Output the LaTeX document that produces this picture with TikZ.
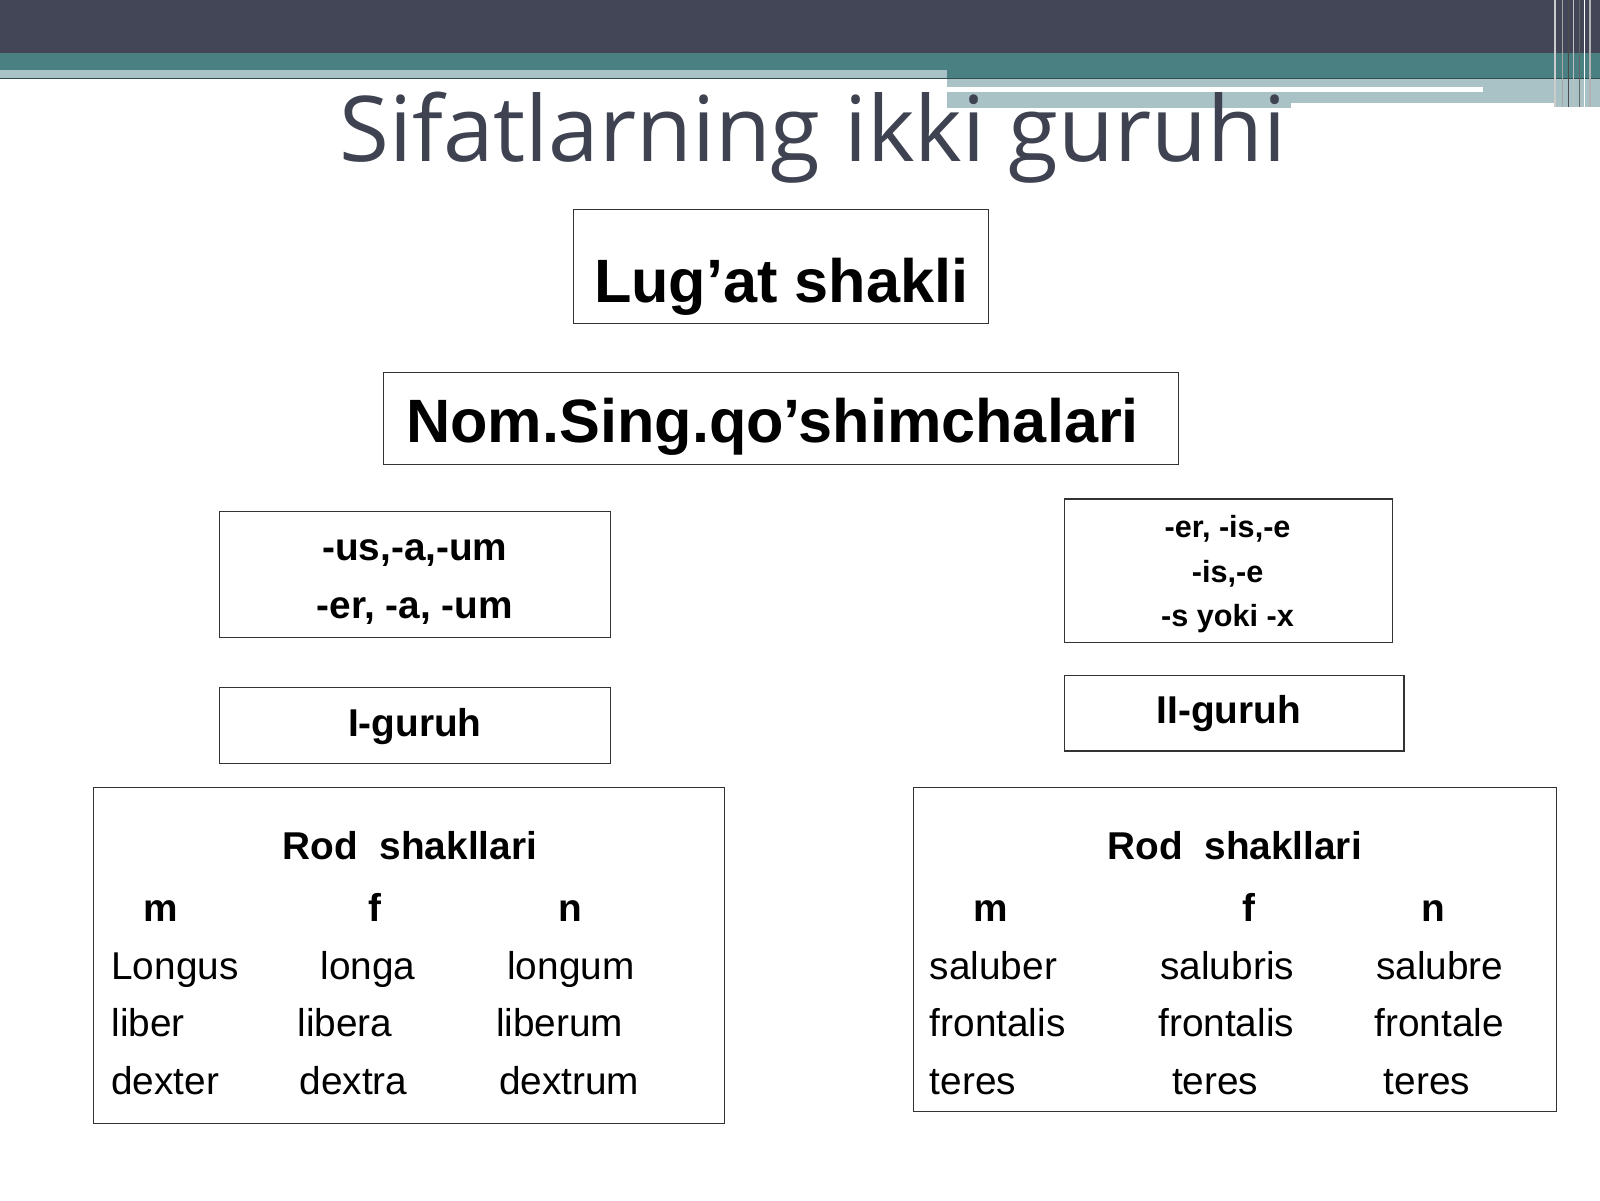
\documentclass[tikz,border=0pt]{standalone}
\usepackage{fontspec}
\setmainfont{Liberation Sans}
\newfontfamily\titlefont{Open Sans}
\usetikzlibrary{positioning}

\definecolor{hdrdark}{HTML}{424656}
\definecolor{hdrteal}{HTML}{4B8082}
\definecolor{hdrlight}{HTML}{A9C2C6}
\definecolor{titlegray}{HTML}{3F4250}

\begin{document}
\begin{tikzpicture}[
    x=1pt, y=-1pt,
    frame/.style={draw=black!80, line width=1.2pt, inner sep=0pt},
    ttl/.style={font=\titlefont\fontsize{89}{89}\selectfont, text=titlegray, inner sep=0pt},
    head/.style={font=\bfseries\fontsize{60}{60}\selectfont},
    sfx/.style={font=\bfseries\fontsize{38}{38}\selectfont, inner sep=0pt},
    sfxsmall/.style={font=\bfseries\fontsize{30}{30}\selectfont, inner sep=0pt},
    grp/.style={font=\bfseries\fontsize{38}{38}\selectfont},
    gender/.style={font=\bfseries\fontsize{38}{38}\selectfont, inner sep=0pt, anchor=base},
    word/.style={font=\fontsize{38}{38}\selectfont, inner sep=0pt, anchor=base west},
]
\useasboundingbox (0,0) rectangle (1568,1176);
\fill[white] (0,0) rectangle (1568,1176);

% === HEADER BAND ===
\fill[hdrdark] (0,0) rectangle (1568,52);
\fill[hdrteal] (0,52) rectangle (1568,76.5);
\draw[hdrteal!60!black, line width=1pt] (0,76.5) -- (1568,76.5);
\fill[hdrlight] (0,68.5) rectangle (928,76);
\fill[hdrlight] (928,77) rectangle (1265,106);
\fill[hdrlight] (1265,77) rectangle (1568,101);
\fill[white] (928,85) rectangle (1453,90);
\fill[hdrlight] (1523,77) rectangle (1568,105);
\draw[gray!40, line width=1.5pt] (1524,0) -- (1524,105);
\draw[gray!70, line width=1.5pt] (1531,0) -- (1531,105);
\draw[black!70, line width=1.5pt] (1537,0) -- (1537,105);
\draw[gray!50, line width=1.5pt] (1542,0) -- (1542,105);
\draw[black!60, line width=1.5pt] (1548,0) -- (1548,105);
\draw[white, line width=1.5pt] (1553,0) -- (1553,105);
\draw[gray!60, line width=1.5pt] (1558,0) -- (1558,105);

% === TITLE ===
\node[ttl, anchor=base] (title) at (796.5,158) {Sifatlarning ikki guruhi};

% === TOP BOXES ===
\node[frame, head, minimum width=407pt, text height=91pt, text depth=21pt] (lug) at (765.5,261) {Lug’at shakli};
\node[frame, head, minimum width=779pt, text height=69pt, text depth=21pt] (nom) at (765.5,410) {Nom.Sing.qo’shimchalari\hspace{0.28em}\mbox{}};

% === GROUP I ===
\node[frame, minimum width=383pt, minimum height=124pt] (sfx1) at (406.5,563) {};
\node[sfx, anchor=base] (sfx1_1) at (406.5,549) {-us,-a,-um};
\node[sfx, anchor=base] (sfx1_2) at (406.5,606) {-er, -a, -um};
\node[frame, grp, minimum width=383pt, text height=48pt, text depth=26pt] (grp1) at (406.5,711) {I-guruh};

% === GROUP II ===
\node[frame, minimum width=322pt, minimum height=141pt] (sfx2) at (1204,559.5) {};
\node[sfxsmall, anchor=base] (sfx2_1) at (1203,527) {-er, -is,-e};
\node[sfxsmall, anchor=base] (sfx2_2) at (1203,571) {-is,-e};
\node[sfxsmall, anchor=base] (sfx2_3) at (1203,614) {-s yoki -x};
\node[frame, grp, minimum width=333pt, text height=47pt, text depth=27pt] (grp2) at (1209.5,699) {II-guruh\hspace{0.28em}\mbox{}};

% === ROD SHAKLLARI, GROUP I ===
\node[frame, minimum width=618pt, minimum height=329pt] (rod1) at (401,936.5) {};
\node[gender] (rod1_t) at (401.7,842) {Rod\ \ shakllari};
\node[gender] (m1) at (158,903.5) {m};
\node[gender] (f1) at (367,903.5) {f};
\node[gender] (n1) at (559,903.5) {n};
\node[word] (w1_1) at (109,959.5) {Longus};
\node[word] (w1_2) at (314,959.5) {longa};
\node[word] (w1_3) at (497,959.5) {longum};
\node[word] (w2_1) at (109,1016) {liber};
\node[word] (w2_2) at (291.5,1016) {libera};
\node[word] (w2_3) at (486,1016) {liberum};
\node[word] (w3_1) at (109,1073) {dexter};
\node[word] (w3_2) at (293.5,1073) {dextra};
\node[word] (w3_3) at (489,1073) {dextrum};

% === ROD SHAKLLARI, GROUP II ===
\node[frame, minimum width=630pt, minimum height=317pt] (rod2) at (1210,930.5) {};
\node[gender] (rod2_t) at (1210,842) {Rod\ \ shakllari};
\node[gender] (m2) at (971,903.5) {m};
\node[gender] (f2) at (1224,903.5) {f};
\node[gender] (n2) at (1404.5,903.5) {n};
\node[word] (v1_1) at (911,959.5) {saluber};
\node[word] (v1_2) at (1137,959.5) {salubris};
\node[word] (v1_3) at (1348.5,959.5) {salubre};
\node[word] (v2_1) at (911,1016) {frontalis};
\node[word] (v2_2) at (1135,1016) {frontalis};
\node[word] (v2_3) at (1347,1016) {frontale};
\node[word] (v3_1) at (911,1073) {teres};
\node[word] (v3_2) at (1148.5,1073) {teres};
\node[word] (v3_3) at (1356,1073) {teres};

\end{tikzpicture}
\end{document}
